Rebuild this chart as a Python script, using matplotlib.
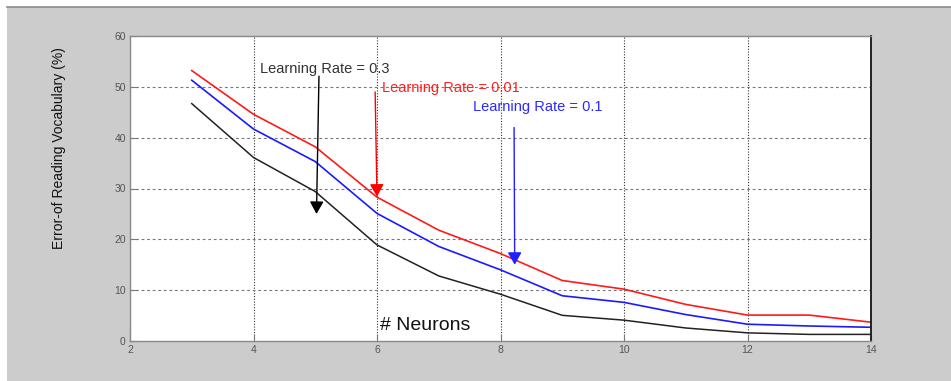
import matplotlib.pyplot as plt
from matplotlib.patches import Rectangle
from matplotlib.lines import Line2D

# Data
neurons = [3, 4, 5, 6, 7, 8, 9, 10, 11, 12, 13, 14]
err_lr_001 = [53.2, 44.6, 38.2, 28.3, 21.8, 17.2, 11.9, 10.2, 7.2, 5.1, 5.1, 3.7]
err_lr_01 = [51.3, 41.7, 35.3, 25.1, 18.6, 14.0, 8.9, 7.6, 5.2, 3.3, 2.95, 2.7]
err_lr_03 = [46.7, 36.1, 29.4, 18.9, 12.8, 9.2, 5.05, 4.1, 2.56, 1.6, 1.3, 1.3]

x_ticks = [2, 4, 6, 8, 10, 12, 14]
y_ticks = [0, 10, 20, 30, 40, 50, 60]

plt.rcParams['font.family'] = ['Liberation Sans', 'DejaVu Sans']

fig = plt.figure(figsize=(9.51, 3.81), dpi=100, facecolor='white')
W, H = 951, 381

# gray panel behind the plot
fig.patches.append(Rectangle((7 / W, 0), 1, (H - 7) / H, transform=fig.transFigure,
                             facecolor='#cccccc', edgecolor='none', zorder=-2))
fig.lines.append(Line2D([7 / W, 1], [(H - 7) / H, (H - 7) / H], transform=fig.transFigure,
                        color='#8a8a8a', lw=1.2))

ax = fig.add_axes([130 / W, 40 / H, 741 / W, 305 / H])
ax.set_facecolor('white')

ax.plot(neurons, err_lr_001, color='#ff1a1a', lw=1.2)
ax.plot(neurons, err_lr_01, color='#1a1aff', lw=1.2)
ax.plot(neurons, err_lr_03, color='#222222', lw=1.1)

ax.set_xlim(2, 14)
ax.set_ylim(0, 60)
ax.set_xticks(x_ticks)
ax.set_yticks(y_ticks)
ax.tick_params(direction='in', length=5, width=0.8, colors='#777777',
               labelsize=7.5, labelcolor='#555555', pad=3)
ax.tick_params(axis='x', pad=3)

# grid: dotted verticals, dashed gray horizontals
for xv in x_ticks[1:-1]:
    ax.axvline(xv, color='#333333', lw=0.8, ls=(0, (1, 1.5)), zorder=0)
for yv in y_ticks[1:-1]:
    ax.axhline(yv, color='#777777', lw=0.8, ls=(0, (2.5, 2.5)), zorder=0)

for side in ['left', 'bottom', 'top']:
    ax.spines[side].set_color('#888888')
    ax.spines[side].set_linewidth(1.0)
ax.spines['right'].set_color('#222222')
ax.spines['right'].set_linewidth(1.4)

ax.set_ylabel('Error-of Reading Vocabulary (%)', fontsize=10, color='#111111')
ax.yaxis.set_label_coords(-0.087, 0.633)

ax.text(6.05, 3.0, '# Neurons', fontsize=14, color='#111111', va='center', ha='left')

# annotations with arrows
head = '-|>,head_length=0.75,head_width=0.42'
ax.text(4.11, 53.5, 'Learning Rate = 0.3', fontsize=10.5, color='#333333', va='center')
ax.annotate('', xy=(5.02, 25.0), xytext=(5.06, 52.1),
            arrowprops=dict(arrowstyle=head, color='black', lw=1.0, mutation_scale=10,
                            shrinkA=0, shrinkB=0))

ax.text(6.08, 49.8, 'Learning Rate = 0.01', fontsize=10.5, color='#ff2020', va='center')
ax.annotate('', xy=(6.0, 28.4), xytext=(5.97, 49.0),
            arrowprops=dict(arrowstyle=head, color='#ff0000', lw=1.0, mutation_scale=10,
                            shrinkA=0, shrinkB=0))

ax.text(7.56, 46.1, 'Learning Rate = 0.1', fontsize=10.5, color='#2a2aff', va='center')
ax.annotate('', xy=(8.23, 15.0), xytext=(8.22, 42.0),
            arrowprops=dict(arrowstyle=head, color='#2020ff', lw=1.0, mutation_scale=10,
                            shrinkA=0, shrinkB=0))

fig.savefig('out.png', dpi=100, facecolor=fig.get_facecolor())
